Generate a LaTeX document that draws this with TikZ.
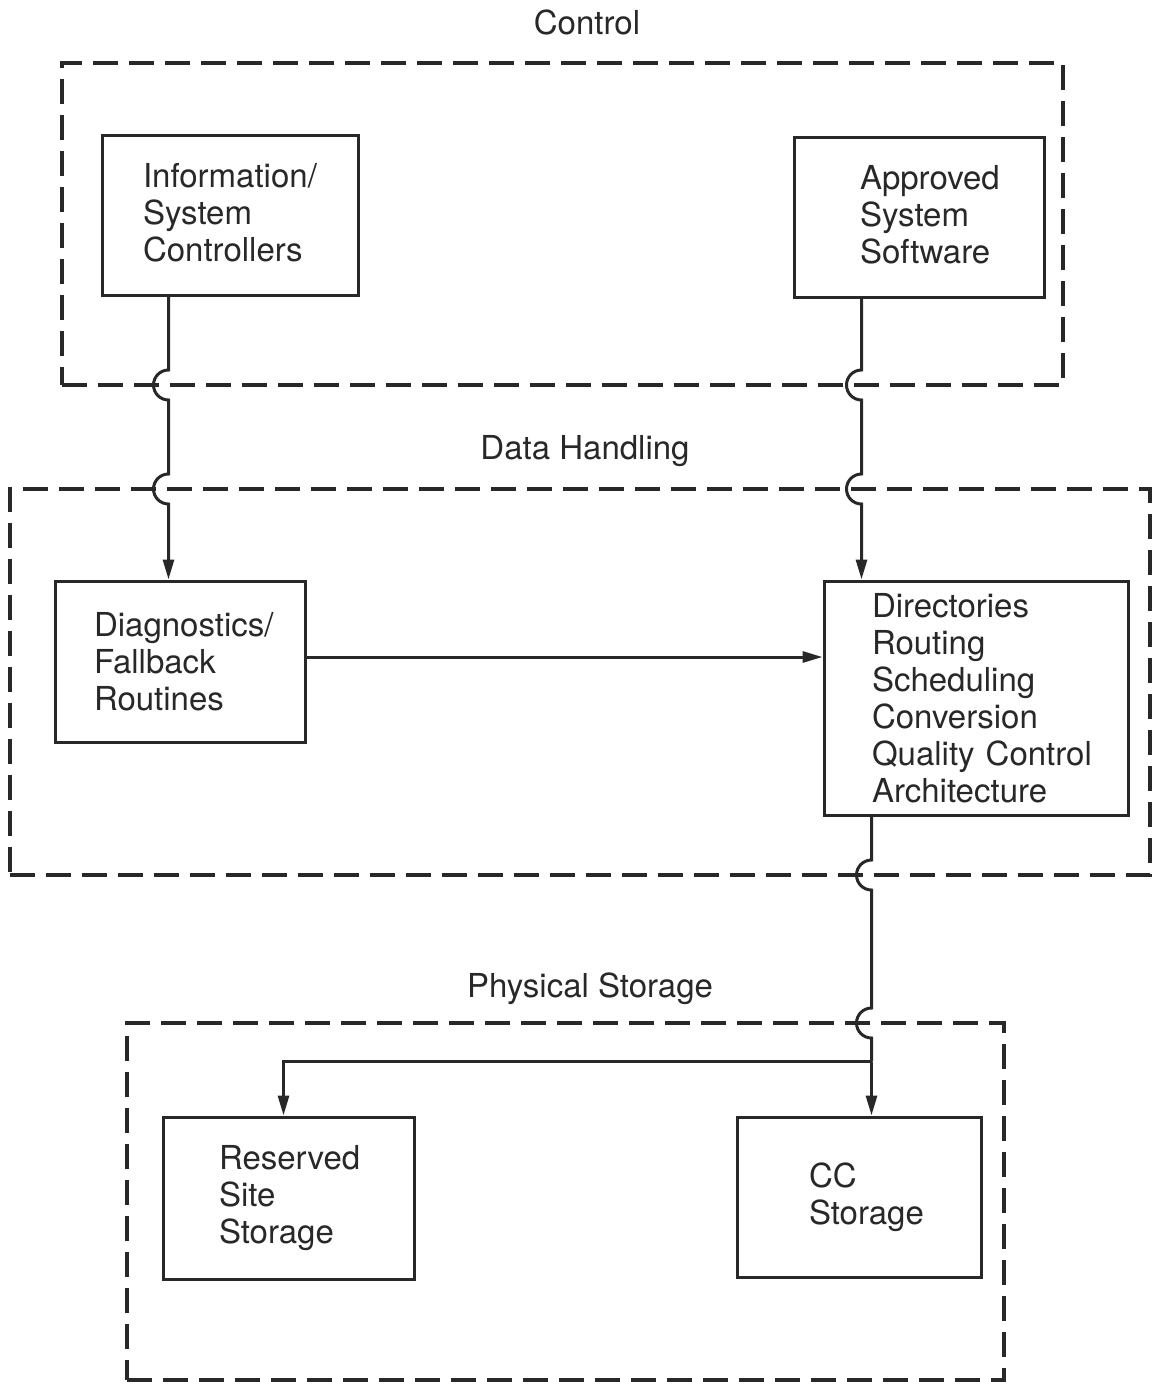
\documentclass[tikz,border=0pt]{standalone}
\usepackage{fontspec}
\setmainfont{TeX Gyre Heros}
\usetikzlibrary{arrows.meta,calc}
\definecolor{ink}{RGB}{40,40,40}
\begin{document}
\begin{tikzpicture}[x=1pt,y=-1pt,
  every node/.style={font=\fontsize{33}{37}\selectfont, text=ink},
  zone/.style={draw=ink, line width=3.5pt, dash pattern=on 25pt off 11pt, inner sep=0pt, outer sep=0pt},
  blk/.style={draw=ink, line width=3pt, align=left, inner ysep=0pt},
  title/.style={anchor=base},
  conn/.style={draw=ink, line width=3pt},
  tip/.style={-{Triangle[length=20pt,width=11pt]}}]
\useasboundingbox (0,0) rectangle (1155,1387);

% dashed layer frames
\node[zone, minimum width=1001pt, minimum height=322pt] (ctrl) at (562.5,224) {};
\node[zone, minimum width=1140pt, minimum height=386pt] (dh) at (580,682) {};
\node[zone, minimum width=877pt, minimum height=357pt] (ps) at (565.5,1201.5) {};

% layer titles
\node[title] (ctrlT) at (587,34) {Control};
\node[title] (dhT) at (585,459) {Data Handling};
\node[title] (psT) at (590,997) {Physical Storage};

% blocks
\node[blk, minimum height=160pt, inner xsep=41pt, text width=174pt] (info) at (230,215)
  {\raisebox{6pt}{Information/}\\\raisebox{6pt}{System}\\\raisebox{6pt}{Controllers}};
\node[blk, minimum height=160pt, inner xsep=66pt, text width=118pt] (appr) at (919,217)
  {\raisebox{5pt}{Approved}\\\raisebox{5pt}{System}\\\raisebox{5pt}{Software}};
\node[blk, minimum height=161pt, inner xsep=39pt, text width=172pt] (diag) at (180,661.5)
  {Diagnostics/\\Fallback\\Routines};
\node[blk, minimum height=234pt, inner xsep=48pt, text width=208pt] (dir) at (976,698)
  {Directories\\Routing\\Scheduling\\Conversion\\\mbox{Quality Control}\\Architecture};
\node[blk, minimum height=162pt, inner xsep=56pt, text width=139pt] (res) at (288.5,1198)
  {Reserved\\Site\\Storage};
\node[blk, minimum height=160pt, inner xsep=72pt, text width=100pt] (cc) at (859,1197)
  {CC\\Storage};

% connector end points
\coordinate (infoOut) at ($(info.south west)+(68,0)$);
\coordinate (apprOut) at ($(appr.south west)+(69,0)$);
\coordinate (dirOut) at ($(dir.south west)+(49,0)$);
\coordinate (diagOut) at ($(diag.east)+(0,-4.5)$);
\coordinate (split) at ($(dirOut |- res.north)+(0,-54)$);
\coordinate (resIn) at ($(res.north west)+(122,0)$);

% control -> data handling, hopping over the frames
\draw[conn,tip] (infoOut)
  -- ($(infoOut |- ctrl.south)+(0,-15)$) arc[start angle=270,end angle=90,radius=15]
  -- ($(infoOut |- dh.north)+(0,-15)$) arc[start angle=270,end angle=90,radius=15]
  -- (infoOut |- diag.north);
\draw[conn,tip] (apprOut)
  -- ($(apprOut |- ctrl.south)+(0,-15)$) arc[start angle=270,end angle=90,radius=15]
  -- ($(apprOut |- dh.north)+(0,-15)$) arc[start angle=270,end angle=90,radius=15]
  -- (apprOut |- dir.north);

% diagnostics -> directories
\draw[conn,tip] (diagOut) -- (diagOut -| dir.west);

% data handling -> physical storage
\draw[conn] (dirOut)
  -- ($(dirOut |- dh.south)+(0,-15)$) arc[start angle=270,end angle=90,radius=15]
  -- ($(dirOut |- ps.north)+(0,-15)$) arc[start angle=270,end angle=90,radius=15]
  -- (split);
\draw[conn,tip] (split) -| (resIn);
\draw[conn,tip] (split) -- (split |- cc.north);
\end{tikzpicture}
\end{document}
